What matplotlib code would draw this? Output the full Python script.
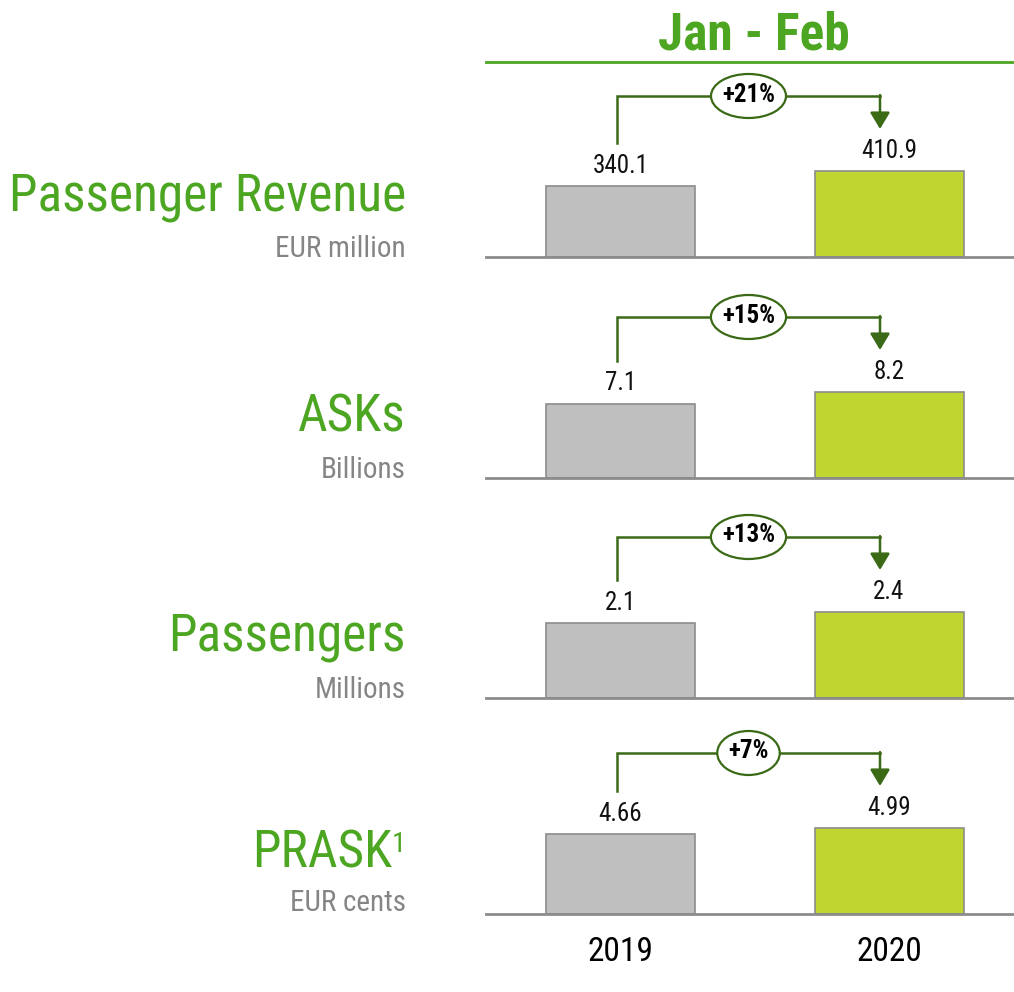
import matplotlib
matplotlib.use("Agg")
import matplotlib.pyplot as plt
from matplotlib import font_manager
from matplotlib.patches import Ellipse

# ---- data ----
years = ["2019", "2020"]
titles = ["Passenger Revenue", "ASKs", "Passengers", "PRASK"]
units = ["EUR million", "Billions", "Millions", "EUR cents"]
revenue = [340.1, 410.9]
asks = [7.1, 8.2]
passengers = [2.1, 2.4]
prask = [4.66, 4.99]
value_labels = [["340.1", "410.9"], ["7.1", "8.2"], ["2.1", "2.4"], ["4.66", "4.99"]]
changes = ["+21%", "+15%", "+13%", "+7%"]
period = "Jan - Feb"

series = [revenue, asks, passengers, prask]

# ---- fonts: prefer a narrow face if one is installed ----
names = {f.name for f in font_manager.fontManager.ttflist}
narrow = None
for cand in ["Liberation Sans Narrow", "Arial Narrow", "Roboto Condensed",
             "Open Sans Condensed", "DejaVu Sans Condensed"]:
    if cand in names:
        narrow = cand
        break
if narrow:
    plt.rcParams["font.family"] = [narrow, "DejaVu Sans"]
    k = 1.0
else:
    plt.rcParams["font.family"] = ["Liberation Sans", "DejaVu Sans"]
    k = 0.86

FS_HEAD = 37 * k
FS_TITLE = 37 * k
FS_SUB = 21 * k
FS_VAL = 18 * k
FS_PCT = 18 * k
FS_YEAR = 24 * k

GREEN_T = "#4DA622"
DARK_G = "#3A6A16"
GRAY_BAR = "#BFBFBF"
GREEN_BAR = "#BFD630"
EDGE = "#8C8C8C"
SUB_GRAY = "#858585"
BASE_GRAY = "#8C8C8C"

W, H = 1014, 992
fig = plt.figure(figsize=(W / 100, H / 100), dpi=100)
fig.patch.set_facecolor("white")
renderer = fig.canvas.get_renderer()

def fx(px):
    return px / W

def fy(py):
    return 1 - py / H

baselines = [257, 478, 698, 914]
ax_left, ax_right = 486, 1014
axh = 175  # px height of each axes
c0, c1 = 620.5, 889.0
unit = c1 - c0
xlim = (-(c0 - ax_left) / unit, 1 + (ax_right - c1) / unit)
bar_w = 149 / unit
MAXPX = 86  # px height of the tallest bar

# header
fig.text(fx(754), fy(49), period, ha="center", va="baseline",
         fontsize=FS_HEAD, fontweight="bold", color=GREEN_T)
fig.add_artist(plt.Line2D([fx(486), fx(1014)], [fy(62), fy(62)],
                          color=GREEN_T, lw=2, transform=fig.transFigure))

for i, (vals, base) in enumerate(zip(series, baselines)):
    ax = fig.add_axes([fx(ax_left), fy(base), fx(ax_right - ax_left), axh / H])
    ytop = max(vals) * axh / MAXPX
    ppu = axh / ytop  # px per data unit
    ax.set_xlim(*xlim)
    ax.set_ylim(0, ytop)
    x = [0, 1]
    ax.bar(x, vals, width=bar_w, color=[GRAY_BAR, GREEN_BAR],
           edgecolor=EDGE, linewidth=1.2, zorder=2)
    for s in ["top", "left", "right"]:
        ax.spines[s].set_visible(False)
    ax.spines["bottom"].set_color(BASE_GRAY)
    ax.spines["bottom"].set_linewidth(2)
    ax.set_yticks([])
    ax.patch.set_alpha(0)
    if i == len(series) - 1:
        ax.set_xticks(x, years)
        ax.tick_params(axis="x", length=0, pad=16, labelsize=FS_YEAR, colors="black")
    else:
        ax.set_xticks([])
    # value labels
    for xi, v, lab in zip(x, vals, value_labels[i]):
        ax.annotate(lab, (xi, v), xytext=(0, 14.5), textcoords="offset points",
                    ha="center", va="center", fontsize=FS_VAL, color="#111111")
    # connector
    xl = 0 - 3.5 / unit
    xr = 1 - 9 / unit
    yh = 161 / ppu
    yl = vals[0] + 43 / ppu
    ytip = 128 / ppu
    ax.plot([xl, xl, xr], [yl, yh, yh], color=DARK_G, lw=1.8,
            solid_joinstyle="miter", clip_on=False, zorder=3)
    ax.annotate("", xy=(xr, ytip), xytext=(xr, yh + 0.9 / ppu),
                arrowprops=dict(arrowstyle="-|>,head_length=0.5,head_width=0.3",
                                color=DARK_G, lw=1.8, mutation_scale=20,
                                shrinkA=0, shrinkB=0),
                annotation_clip=False, zorder=3)
    xm = (xl + xr) / 2
    t = ax.text(xm, yh + 1.5 / ppu, changes[i], ha="center", va="center",
                fontsize=FS_PCT, fontweight="bold", color="black", zorder=6,
                clip_on=False)
    tw = t.get_window_extent(renderer).width
    ell = Ellipse((xm, yh), width=(tw + 22) / unit, height=44 / ppu,
                  facecolor="white", edgecolor=DARK_G, lw=1.6, zorder=5,
                  clip_on=False)
    ax.add_patch(ell)

    # left titles
    if titles[i] == "PRASK":
        fig.text(fx(392), fy(base - 47), titles[i], ha="right", va="baseline",
                 fontsize=FS_TITLE, color=GREEN_T)
        fig.text(fx(406), fy(base - 62), "1", ha="right", va="baseline",
                 fontsize=FS_TITLE * 0.55, color=GREEN_T)
        fig.text(fx(406), fy(base - 3), units[i], ha="right", va="baseline",
                 fontsize=FS_SUB, color=SUB_GRAY)
    else:
        fig.text(fx(406), fy(base - 47), titles[i], ha="right", va="baseline",
                 fontsize=FS_TITLE if narrow else 31.5, color=GREEN_T)
        fig.text(fx(406), fy(base), units[i], ha="right", va="baseline",
                 fontsize=FS_SUB, color=SUB_GRAY)

fig.savefig("out.png", dpi=100, facecolor="white")
